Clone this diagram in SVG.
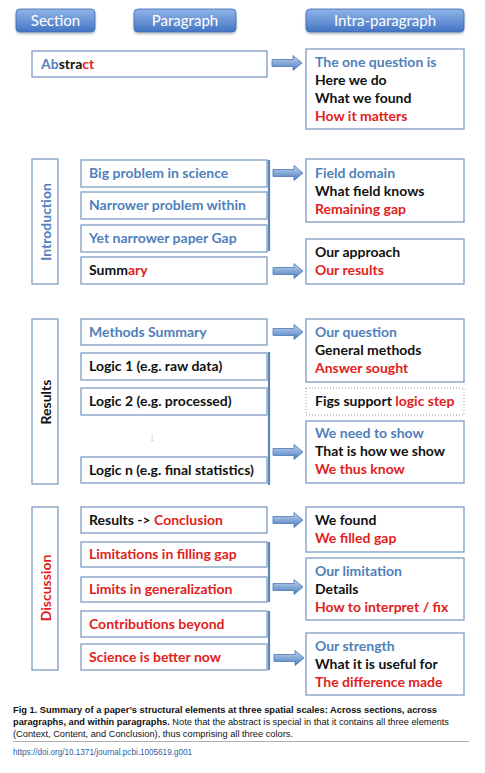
<svg xmlns="http://www.w3.org/2000/svg" width="485" height="773" viewBox="0 0 485 773">
<style>
.hdr{fill:url(#hg);stroke:#3f6db3;stroke-width:0.8;filter:url(#sh)}
.ht{font-family:Lato,"Liberation Sans",sans-serif;font-size:15px;fill:#ffffff;text-anchor:middle}
.box{fill:#ffffff;stroke:#7f9cc4;stroke-width:1.3}
.dbox{fill:#ffffff;stroke:#9a9a9a;stroke-width:1;stroke-dasharray:1 2}
.t{font-family:Lato,"Liberation Sans",sans-serif;font-size:14px;font-weight:bold;fill:#111111}
.sec{font-family:Lato,"Liberation Sans",sans-serif;font-size:14px;font-weight:bold;text-anchor:middle}
.b{fill:#5080bb}
.r{fill:#e2211c}
.k{fill:#111111}
.brk{stroke:#5a84c0;stroke-width:2.2}
.cap{font-family:"Liberation Sans",Arial,sans-serif;font-size:9px;fill:#111111}
</style>
<defs>
<linearGradient id="hg" x1="0" y1="0" x2="0" y2="1">
<stop offset="0" stop-color="#8fb4e8"/>
<stop offset="1" stop-color="#4475c4"/>
</linearGradient>
<linearGradient id="ag" x1="0" y1="0" x2="0" y2="1">
<stop offset="0" stop-color="#c3d6f0"/>
<stop offset="1" stop-color="#4a7bc0"/>
</linearGradient>
<filter id="sh" x="-10%" y="-20%" width="120%" height="150%">
<feDropShadow dx="0" dy="1.5" stdDeviation="1" flood-color="#000" flood-opacity="0.3"/>
</filter>
<path id="arr" d="M0,-3.5 H21 V-7.5 L30,0 L21,7.5 V3.5 H0 Z" fill="url(#ag)" stroke="#4a77b6" stroke-width="0.8"/>
</defs>
<rect width="485" height="773" fill="#ffffff"/>

<g id="headers">
<g id="h-section"><rect class="hdr" x="16" y="9" width="79" height="23" rx="4"/><text class="ht" x="55.5" y="26">Section</text></g>
<g id="h-paragraph"><rect class="hdr" x="134" y="9" width="102" height="23" rx="4"/><text class="ht" x="185" y="26">Paragraph</text></g>
<g id="h-intra"><rect class="hdr" x="306" y="9" width="158" height="23" rx="4"/><text class="ht" x="385" y="26">Intra-paragraph</text></g>
</g>

<g id="connectors">
<use href="#arr" x="272" y="63"/>
<use href="#arr" x="273" y="173"/>
<use href="#arr" x="273" y="271"/>
<use href="#arr" x="273" y="332"/>
<use href="#arr" x="273" y="452"/>
<use href="#arr" x="273" y="520"/>
<use href="#arr" x="273" y="587"/>
<use href="#arr" x="274" y="658"/>
<line class="brk" x1="269" y1="160" x2="269" y2="251"/>
<line class="brk" x1="269" y1="352" x2="269" y2="485"/>
<line class="brk" x1="269" y1="542" x2="269" y2="602"/>
<line class="brk" x1="269" y1="611" x2="269" y2="670"/>
</g>

<g id="abstract"><rect class="box" x="32" y="51" width="235" height="26"/><text class="t" x="41" y="69"><tspan class="b">Ab</tspan><tspan class="k">stra</tspan><tspan class="r">ct</tspan></text></g>
<g id="abstract-intra"><rect class="box" x="306" y="49" width="158" height="80"/>
<text class="t" x="315" y="67"><tspan class="b">The one question is</tspan><tspan class="k" x="315" dy="18">Here we do</tspan><tspan class="k" x="315" dy="18">What we found</tspan><tspan class="r" x="315" dy="18">How it matters</tspan></text></g>

<g id="sec-introduction"><rect class="box" x="32" y="159" width="26" height="125"/><text class="sec b" transform="translate(51,222) rotate(-90)">Introduction</text></g>
<g id="p-big"><rect class="box" x="81" y="160" width="186" height="27"/><text class="t b" x="89" y="178">Big problem in science</text></g>
<g id="p-narrower"><rect class="box" x="81" y="192" width="186" height="27"/><text class="t b" x="89" y="210">Narrower problem within</text></g>
<g id="p-gap"><rect class="box" x="81" y="225" width="186" height="27"/><text class="t b" x="89" y="243">Yet narrower paper Gap</text></g>
<g id="p-summary"><rect class="box" x="81" y="257" width="186" height="27"/><text class="t" x="89" y="275"><tspan class="k">Summ</tspan><tspan class="r">ary</tspan></text></g>
<g id="i-field"><rect class="box" x="306" y="159" width="158" height="63"/>
<text class="t" x="315" y="178"><tspan class="b">Field domain</tspan><tspan class="k" x="315" dy="18">What field knows</tspan><tspan class="r" x="315" dy="18">Remaining gap</tspan></text></g>
<g id="i-approach"><rect class="box" x="306" y="239" width="158" height="45"/>
<text class="t" x="315" y="257"><tspan class="k">Our approach</tspan><tspan class="r" x="315" dy="18">Our results</tspan></text></g>

<g id="sec-results"><rect class="box" x="32" y="319" width="26" height="165"/><text class="sec k" transform="translate(51,402) rotate(-90)">Results</text></g>
<g id="p-methods"><rect class="box" x="81" y="319" width="186" height="26"/><text class="t b" x="89" y="337">Methods Summary</text></g>
<g id="p-logic1"><rect class="box" x="81" y="353" width="186" height="27"/><text class="t k" x="89" y="371">Logic 1 (e.g. raw data)</text></g>
<g id="p-logic2"><rect class="box" x="81" y="388" width="186" height="27"/><text class="t k" x="89" y="406">Logic 2 (e.g. processed)</text></g>
<text x="152" y="440" font-family="DejaVu Sans,sans-serif" font-size="7" fill="#555555" text-anchor="middle">⋮</text>
<g id="p-logicn"><rect class="box" x="81" y="457" width="186" height="26"/><text class="t k" x="89" y="475">Logic n (e.g. final statistics)</text></g>
<g id="i-question"><rect class="box" x="306" y="319" width="158" height="63"/>
<text class="t" x="315" y="337"><tspan class="b">Our question</tspan><tspan class="k" x="315" dy="18">General methods</tspan><tspan class="r" x="315" dy="18">Answer sought</tspan></text></g>
<g id="i-figs"><rect class="dbox" x="306" y="388" width="158" height="27"/><text class="t" x="315" y="406"><tspan class="k">Figs support </tspan><tspan class="r">logic step</tspan></text></g>
<g id="i-show"><rect class="box" x="306" y="421" width="158" height="62"/>
<text class="t" x="315" y="438"><tspan class="b">We need to show</tspan><tspan class="k" x="315" dy="18">That is how we show</tspan><tspan class="r" x="315" dy="18">We thus know</tspan></text></g>

<g id="sec-discussion"><rect class="box" x="32" y="507" width="26" height="163"/><text class="sec r" transform="translate(51,588) rotate(-90)">Discussion</text></g>
<g id="p-conclusion"><rect class="box" x="81" y="507" width="186" height="26"/><text class="t" x="89" y="525"><tspan class="k">Results -&gt; </tspan><tspan class="r">Conclusion</tspan></text></g>
<g id="p-limitations"><rect class="box" x="81" y="542" width="186" height="25"/><text class="t r" x="89" y="559">Limitations in filling gap</text></g>
<g id="p-limits"><rect class="box" x="81" y="577" width="186" height="25"/><text class="t r" x="89" y="594">Limits in generalization</text></g>
<g id="p-contrib"><rect class="box" x="81" y="611" width="186" height="26"/><text class="t r" x="89" y="629">Contributions beyond</text></g>
<g id="p-better"><rect class="box" x="81" y="644" width="186" height="26"/><text class="t r" x="89" y="662">Science is better now</text></g>
<g id="i-found"><rect class="box" x="306" y="507" width="158" height="45"/>
<text class="t" x="315" y="525"><tspan class="k">We found</tspan><tspan class="r" x="315" dy="18">We filled gap</tspan></text></g>
<g id="i-limitation"><rect class="box" x="306" y="558" width="158" height="62"/>
<text class="t" x="315" y="576"><tspan class="b">Our limitation</tspan><tspan class="k" x="315" dy="18">Details</tspan><tspan class="r" x="315" dy="18">How to interpret / fix</tspan></text></g>
<g id="i-strength"><rect class="box" x="306" y="633" width="158" height="62"/>
<text class="t" x="315" y="651"><tspan class="b">Our strength</tspan><tspan class="k" x="315" dy="18">What it is useful for</tspan><tspan class="r" x="315" dy="18">The difference made</tspan></text></g>

<g id="caption">
<text class="cap" x="13" y="713" font-weight="bold" textLength="424" lengthAdjust="spacingAndGlyphs">Fig 1. Summary of a paper’s structural elements at three spatial scales: Across sections, across</text>
<text class="cap" x="13" y="725" textLength="436" lengthAdjust="spacingAndGlyphs"><tspan font-weight="bold">paragraphs, and within paragraphs.</tspan> Note that the abstract is special in that it contains all three elements</text>
<text class="cap" x="13" y="737" textLength="280" lengthAdjust="spacingAndGlyphs">(Context, Content, and Conclusion), thus comprising all three colors.</text>
<line x1="13" y1="741.5" x2="469" y2="741.5" stroke="#9a9a9a" stroke-width="0.8"/>
<text class="cap" x="13" y="755" fill="#2a5fa8" textLength="179" lengthAdjust="spacingAndGlyphs" style="fill:#2a5fa8">https://doi.org/10.1371/journal.pcbi.1005619.g001</text>
</g>
</svg>
